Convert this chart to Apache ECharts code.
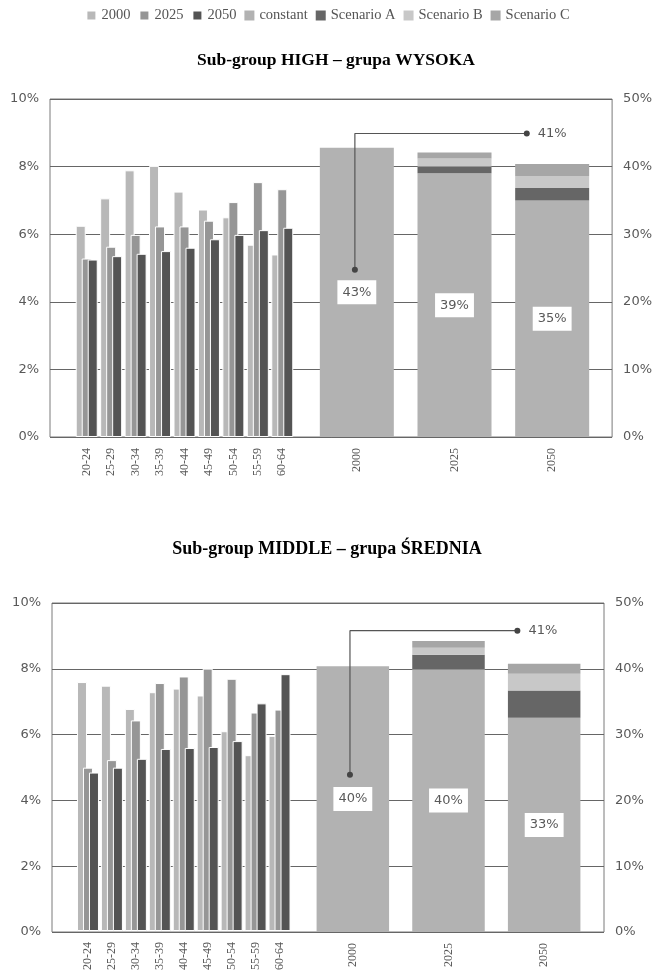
<!DOCTYPE html>
<html>
<head>
<meta charset="utf-8">
<script src="https://cdn.jsdelivr.net/npm/echarts@6/dist/echarts.min.js"></script>
<style>
html,body{margin:0;padding:0;background:#fff;}
#c{width:655px;height:973px;}
</style>
</head>
<body>
<div id="c"></div>
<script>
// ---- data ----
var ages = ['20-24','25-29','30-34','35-39','40-44','45-49','50-54','55-59','60-64'];
var years = ['2000','2025','2050'];
var leftTicks = [0,2,4,6,8,10];
var rightTicks = [0,10,20,30,40,50];

var highAge2000 = [6.25,7.06,7.89,8.02,7.26,6.73,6.50,5.69,5.40];
var highAge2025 = [5.28,5.63,5.98,6.23,6.23,6.40,6.95,7.54,7.33];
var highAge2050 = [5.25,5.35,5.42,5.50,5.60,5.85,5.98,6.12,6.19];
var highConstant = [42.8,39.0,35.0];
var highScenA = [null,1.0,1.85];
var highScenB = [null,1.2,1.77];
var highScenC = [null,0.9,1.77];
var highCallout = [[-0.02,24.75],[-0.02,44.9],[1.74,44.9]];
var highCalloutLabel = '41%';

var midAge2000 = [7.59,7.48,6.77,7.28,7.39,7.18,6.09,5.36,5.95];
var midAge2025 = [4.98,5.21,6.42,7.56,7.76,8.0,7.69,6.66,6.75];
var midAge2050 = [4.83,4.98,5.25,5.55,5.58,5.61,5.79,6.94,7.83];
var midConstant = [40.4,39.94,32.55];
var midScenA = [null,2.2,4.15];
var midScenB = [null,1.07,2.54];
var midScenC = [null,1.0,1.52];
var midCallout = [[-0.03,23.9],[-0.03,45.8],[1.72,45.8]];
var midCalloutLabel = '41%';

var titles = ['Sub-group HIGH \u2013 grupa WYSOKA', 'Sub-group MIDDLE \u2013 grupa \u015aREDNIA'];
var legendNames = ['2000','2025','2050','constant','Scenario A','Scenario B','Scenario C'];

// ---- styles ----
var COL = {'2000':'#b8b8b8','2025':'#969696','2050':'#545454','constant':'#b2b2b2','Scenario A':'#666666','Scenario B':'#c8c8c8','Scenario C':'#a6a6a6'};
var SANS = 'DejaVu Sans';
var SERIF = 'Liberation Serif';
var TXT = '#595959';

var layouts = [
  {bg:{left:50,top:99,width:564,height:338}, l:{left:74.5,top:99,width:220,height:338}, r:{left:308,top:99,width:293,height:338}, rbw:74, titleTop:46, titleLeft:331, titleSize:17.5},
  {bg:{left:52,top:603,width:552,height:329}, l:{left:76,top:603,width:215.5,height:329}, r:{left:305,top:603,width:287,height:329}, rbw:72.5, titleTop:535, titleLeft:322, titleSize:18}
];
var chartsData = [
  {a:[highAge2000,highAge2025,highAge2050], c:highConstant, A:highScenA, B:highScenB, C:highScenC, call:highCallout, callLbl:highCalloutLabel},
  {a:[midAge2000,midAge2025,midAge2050], c:midConstant, A:midScenA, B:midScenB, C:midScenC, call:midCallout, callLbl:midCalloutLabel}
];

var grid=[], xAxis=[], yAxis=[], series=[], title=[];
layouts.forEach(function(L, k){
  var d = chartsData[k];
  var g0 = grid.length;
  grid.push(Object.assign({show:true, borderColor:'#7a7a7a', borderWidth:1, backgroundColor:'transparent'}, L.bg));
  grid.push(L.l);
  grid.push(L.r);
  title.push({text:titles[k], left:L.titleLeft, textAlign:'center', top:L.titleTop,
    textStyle:{fontFamily:SERIF, fontWeight:'bold', fontSize:L.titleSize, color:'#000'}});
  var x0 = xAxis.length;
  xAxis.push({gridIndex:g0, type:'category', data:[''], show:false});
  xAxis.push({gridIndex:g0+1, type:'category', data:ages, axisLine:{show:false}, axisTick:{show:false},
    axisLabel:{rotate:90, interval:0, margin:11, fontFamily:SERIF, fontSize:12, color:TXT}});
  xAxis.push({gridIndex:g0+2, type:'category', data:years, axisLine:{show:false}, axisTick:{show:false},
    axisLabel:{rotate:90, interval:0, margin:11, fontFamily:SERIF, fontSize:12, color:TXT}});
  xAxis.push({gridIndex:g0+2, type:'value', min:-0.5, max:2.5, show:false, position:'top'});
  var y0 = yAxis.length;
  yAxis.push({gridIndex:g0, type:'value', position:'left', min:leftTicks[0], max:leftTicks[leftTicks.length-1], interval:leftTicks[1]-leftTicks[0],
    axisLine:{show:false}, axisTick:{show:false},
    axisLabel:{formatter:'{value}%', margin:11, fontFamily:SANS, fontSize:13, color:TXT},
    splitLine:{show:true, lineStyle:{color:'#666', width:1}}});
  yAxis.push({gridIndex:g0, type:'value', position:'right', min:rightTicks[0], max:rightTicks[rightTicks.length-1], interval:rightTicks[1]-rightTicks[0],
    axisLine:{show:false}, axisTick:{show:false},
    axisLabel:{formatter:'{value}%', margin:11, fontFamily:SANS, fontSize:13, color:TXT},
    splitLine:{show:false}});
  yAxis.push({gridIndex:g0+1, type:'value', min:0, max:10, show:false, splitLine:{show:false}});
  yAxis.push({gridIndex:g0+2, type:'value', min:0, max:50, show:false, splitLine:{show:false}});

  ['2000','2025','2050'].forEach(function(nm, i){
    series.push({name:nm, type:'bar', xAxisIndex:x0+1, yAxisIndex:y0+2, data:d.a[i],
      barWidth:10, barGap:'-40%', itemStyle:{color:COL[nm], borderColor:'#fff', borderWidth:1}});
  });
  var stackName = 'st'+k;
  series.push({name:'constant', type:'bar', stack:stackName, xAxisIndex:x0+2, yAxisIndex:y0+3, data:d.c, barWidth:L.rbw,
    itemStyle:{color:COL['constant']},
    label:{show:true, position:'inside', formatter:function(p){return Math.round(p.value)+'%';},
      backgroundColor:'#fff', padding:[6,5,5,5], fontFamily:SANS, fontSize:13, color:TXT}});
  [['Scenario A',d.A],['Scenario B',d.B],['Scenario C',d.C]].forEach(function(s){
    series.push({name:s[0], type:'bar', stack:stackName, xAxisIndex:x0+2, yAxisIndex:y0+3, data:s[1], barWidth:L.rbw,
      itemStyle:{color:COL[s[0]]}});
  });
  var n = d.call.length;
  series.push({name:'callout'+k, type:'line', xAxisIndex:x0+3, yAxisIndex:y0+3, z:5,
    data:d.call.map(function(v, i){
      return {value:v, symbolSize:(i===1?0:6),
        label:{show:i===n-1, position:'right', distance:8, formatter:d.callLbl, fontFamily:SANS, fontSize:13, color:TXT}};
    }),
    symbol:'circle', showSymbol:true, lineStyle:{color:'#555', width:1.2}, itemStyle:{color:'#444'}, silent:true, animation:false});
});

var chart = echarts.init(document.getElementById('c'));
chart.setOption({
  animation:false,
  backgroundColor:'#fff',
  title:title,
  legend:{data:legendNames, top:3, left:'center', itemWidth:10, itemHeight:10, itemGap:8, icon:'rect',
    textStyle:{fontFamily:SERIF, fontSize:14.5, color:'#555'}},
  grid:grid, xAxis:xAxis, yAxis:yAxis, series:series
});
</script>
</body>
</html>
